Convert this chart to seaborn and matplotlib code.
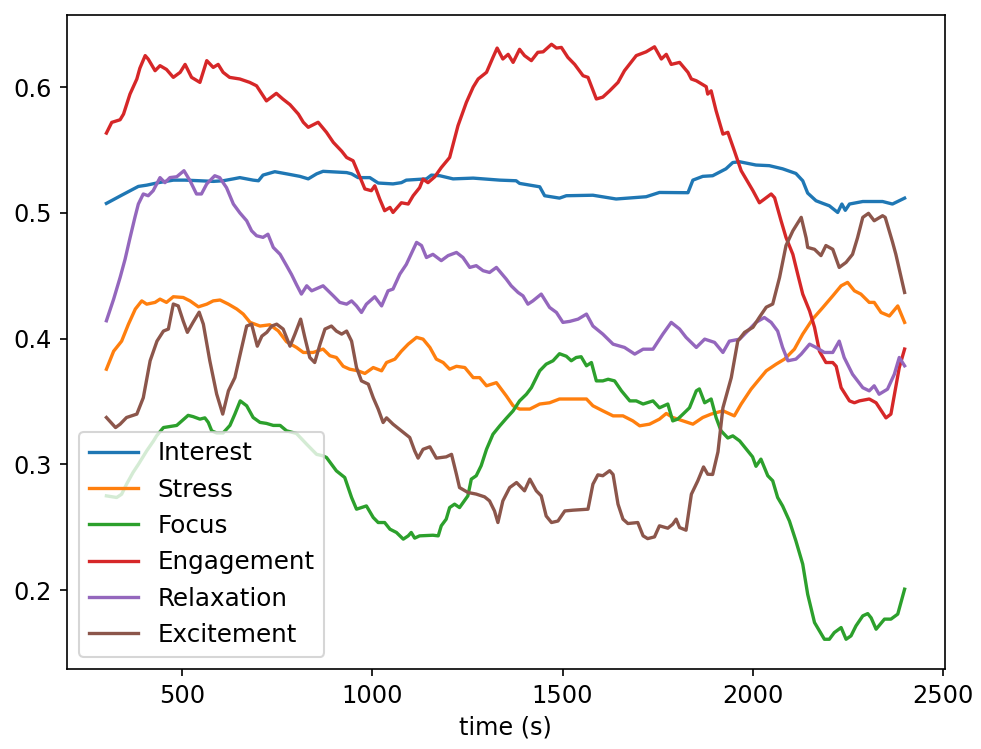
import matplotlib
matplotlib.use("Agg")
import matplotlib.pyplot as plt
import seaborn as sns
import pandas as pd

# Sample times (s) and smoothed metric values per channel
interest_t = [300, 340, 384, 406, 437, 476, 507, 546, 581, 607, 634, 651, 686, 700, 712, 743,
              774, 809, 831, 853, 870, 932, 945, 962, 993, 1015, 1054, 1076, 1089, 1142, 1155,
              1177, 1212, 1265, 1335, 1378, 1387, 1440, 1453, 1492, 1510, 1580, 1641, 1720,
              1755, 1830, 1843, 1869, 1895, 1930, 1948, 1966, 2009, 2044, 2079, 2114, 2132,
              2145, 2167, 2185, 2202, 2224, 2235, 2244, 2255, 2290, 2342, 2368, 2400]
interest_v = [0.5075, 0.514, 0.521, 0.522, 0.524, 0.526, 0.526, 0.5255, 0.525, 0.5255, 0.527,
              0.528, 0.526, 0.5255, 0.530, 0.5327, 0.531, 0.529, 0.527, 0.531, 0.533, 0.532,
              0.531, 0.528, 0.528, 0.5237, 0.523, 0.524, 0.526, 0.527, 0.530, 0.5295, 0.527,
              0.5276, 0.526, 0.5255, 0.5234, 0.5207, 0.5136, 0.5117, 0.5136, 0.514, 0.511,
              0.5128, 0.5162, 0.516, 0.526, 0.529, 0.5295, 0.535, 0.540, 0.5406, 0.538, 0.5375,
              0.535, 0.5313, 0.5255, 0.5157, 0.5096, 0.5075, 0.5056, 0.5003, 0.507, 0.502,
              0.507, 0.509, 0.509, 0.507, 0.5117]

stress_t = [300, 319, 340, 358, 376, 393, 406, 428, 441, 458, 476, 502, 520, 542, 564, 581,
            599, 621, 643, 660, 678, 704, 730, 752, 774, 800, 818, 844, 870, 888, 905, 923, 940,
            962, 980, 1002, 1024, 1037, 1059, 1076, 1094, 1116, 1133, 1151, 1168, 1186, 1203,
            1221, 1243, 1265, 1282, 1300, 1326, 1352, 1370, 1387, 1414, 1440, 1466, 1492, 1527,
            1563, 1580, 1606, 1633, 1659, 1685, 1703, 1729, 1755, 1773, 1790, 1817, 1843, 1869,
            1891, 1922, 1952, 1970, 1996, 2014, 2036, 2062, 2084, 2110, 2132, 2158, 2185, 2211,
            2233, 2250, 2268, 2285, 2307, 2320, 2338, 2360, 2382, 2400]
stress_v = [0.3757, 0.390, 0.398, 0.4115, 0.4235, 0.430, 0.4274, 0.4288, 0.4314, 0.4288, 0.4333,
            0.4327, 0.430, 0.4253, 0.4274, 0.430, 0.4307, 0.4274, 0.4235, 0.4195, 0.4129, 0.410,
            0.411, 0.4062, 0.3975, 0.393, 0.389, 0.389, 0.3917, 0.3864, 0.385, 0.378, 0.3757,
            0.3744, 0.3723, 0.377, 0.3744, 0.381, 0.3837, 0.390, 0.3956, 0.401, 0.3996, 0.393,
            0.3837, 0.381, 0.3757, 0.378, 0.377, 0.369, 0.369, 0.3625, 0.365, 0.3545, 0.3466,
            0.344, 0.344, 0.348, 0.349, 0.352, 0.352, 0.352, 0.3466, 0.3426, 0.3386, 0.3386,
            0.3346, 0.3307, 0.332, 0.336, 0.3405, 0.3373, 0.3346, 0.332, 0.3373, 0.340, 0.3426,
            0.3386, 0.348, 0.3598, 0.3664, 0.3744, 0.3797, 0.3837, 0.3916, 0.4036, 0.4155,
            0.4248, 0.434, 0.442, 0.4447, 0.438, 0.4354, 0.4288, 0.4288, 0.4208, 0.418, 0.426,
            0.4129]

focus_t = [300, 327, 340, 353, 370, 384, 406, 424, 432, 450, 485, 515, 528, 546, 559, 568, 577,
           590, 607, 625, 638, 652, 669, 686, 704, 721, 739, 757, 774, 800, 827, 853, 870, 879,
           905, 927, 945, 958, 971, 984, 1002, 1015, 1032, 1046, 1063, 1081, 1094, 1102, 1111,
           1124, 1159, 1173, 1181, 1194, 1203, 1216, 1229, 1251, 1260, 1273, 1286, 1300, 1317,
           1335, 1352, 1370, 1387, 1405, 1418, 1440, 1457, 1475, 1492, 1510, 1523, 1536, 1549,
           1563, 1576, 1589, 1606, 1620, 1637, 1655, 1677, 1694, 1712, 1738, 1755, 1777, 1790,
           1803, 1817, 1834, 1852, 1860, 1874, 1891, 1904, 1917, 1935, 1948, 1966, 1987, 2000,
           2009, 2022, 2040, 2053, 2066, 2079, 2097, 2114, 2132, 2145, 2163, 2176, 2189, 2202,
           2215, 2233, 2246, 2259, 2272, 2290, 2303, 2312, 2325, 2347, 2364, 2382, 2400]
focus_v = [0.275, 0.2737, 0.2763, 0.2843, 0.2936, 0.300, 0.3108, 0.3187, 0.3227, 0.3293, 0.331,
           0.339, 0.338, 0.336, 0.337, 0.3334, 0.3267, 0.325, 0.325, 0.331, 0.340, 0.3505,
           0.3466, 0.3373, 0.3334, 0.3326, 0.331, 0.331, 0.3267, 0.3246, 0.316, 0.308, 0.3068,
           0.3055, 0.2949, 0.2896, 0.2737, 0.2644, 0.2657, 0.267, 0.2578, 0.2538, 0.2538,
           0.2485, 0.2459, 0.2406, 0.2432, 0.2459, 0.2414, 0.2432, 0.2437, 0.2432, 0.2512,
           0.2565, 0.2657, 0.2684, 0.2657, 0.275, 0.2883, 0.291, 0.299, 0.312, 0.324, 0.3307,
           0.3366, 0.3426, 0.3505, 0.3558, 0.361, 0.3744, 0.3797, 0.3824, 0.388, 0.386, 0.3824,
           0.385, 0.3856, 0.3784, 0.381, 0.3664, 0.3664, 0.3677, 0.3664, 0.3585, 0.3505, 0.3505,
           0.348, 0.3505, 0.345, 0.348, 0.3346, 0.336, 0.340, 0.345, 0.3585, 0.360, 0.349, 0.352,
           0.3373, 0.3267, 0.321, 0.3227, 0.3187, 0.3108, 0.306, 0.2985, 0.3042, 0.291, 0.287,
           0.2737, 0.267, 0.255, 0.2392, 0.2207, 0.1968, 0.1743, 0.1677, 0.161, 0.161, 0.1663,
           0.1703, 0.161, 0.1637, 0.1716, 0.1796, 0.1814, 0.178, 0.169, 0.177, 0.177, 0.181,
           0.2008]

engagement_t = [300, 314, 336, 345, 362, 380, 388, 402, 410, 428, 441, 458, 476, 494, 507, 524,
                546, 564, 581, 594, 607, 624, 651, 677, 695, 721, 747, 764, 783, 805, 818, 831,
                857, 879, 897, 919, 932, 949, 962, 980, 997, 1006, 1019, 1032, 1046, 1054, 1076,
                1094, 1107, 1124, 1133, 1146, 1164, 1181, 1203, 1225, 1247, 1265, 1278, 1300,
                1317, 1328, 1343, 1357, 1370, 1387, 1400, 1418, 1435, 1449, 1471, 1484, 1497,
                1514, 1532, 1554, 1567, 1589, 1606, 1624, 1646, 1663, 1694, 1720, 1742, 1760,
                1773, 1786, 1808, 1830, 1839, 1852, 1878, 1882, 1891, 1904, 1922, 1935, 1952,
                1970, 2001, 2018, 2031, 2049, 2058, 2075, 2088, 2106, 2119, 2132, 2150, 2163,
                2176, 2193, 2211, 2220, 2233, 2255, 2268, 2281, 2307, 2325, 2351, 2364, 2386,
                2400]
engagement_v = [0.5634, 0.5719, 0.574, 0.5785, 0.5944, 0.6064, 0.615, 0.625, 0.6222, 0.613,
                0.617, 0.614, 0.6077, 0.6117, 0.618, 0.6077, 0.6037, 0.621, 0.6156, 0.618,
                0.6117, 0.6077, 0.6064, 0.6037, 0.601, 0.589, 0.595, 0.5905, 0.586, 0.5785,
                0.572, 0.568, 0.572, 0.564, 0.556, 0.549, 0.544, 0.5414, 0.532, 0.519, 0.5176,
                0.5215, 0.511, 0.5017, 0.5043, 0.5003, 0.508, 0.507, 0.5136, 0.520, 0.5268,
                0.524, 0.5287, 0.536, 0.544, 0.5693, 0.5878, 0.600, 0.6064, 0.6117, 0.6236,
                0.631, 0.6223, 0.626, 0.6196, 0.630, 0.625, 0.621, 0.6276, 0.628, 0.634, 0.631,
                0.6315, 0.6236, 0.618, 0.609, 0.6077, 0.5905, 0.592, 0.597, 0.6037, 0.613, 0.625,
                0.628, 0.632, 0.6223, 0.626, 0.618, 0.6196, 0.6117, 0.6064, 0.605, 0.6003,
                0.5944, 0.597, 0.5812, 0.5626, 0.564, 0.5494, 0.5335, 0.5176, 0.508, 0.5109,
                0.515, 0.512, 0.4937, 0.4804, 0.467, 0.451, 0.4354, 0.422, 0.409, 0.390, 0.381,
                0.381, 0.378, 0.361, 0.3505, 0.349, 0.3505, 0.352, 0.349, 0.337, 0.340, 0.377,
                0.3917]

relaxation_t = [300, 319, 336, 349, 362, 375, 384, 397, 410, 423, 441, 454, 467, 485, 504, 520,
                537, 550, 564, 585, 598, 616, 634, 651, 669, 682, 695, 712, 725, 739, 757, 774,
                787, 800, 813, 827, 840, 870, 897, 914, 932, 945, 958, 971, 984, 1006, 1024, 1041,
                1054, 1072, 1089, 1116, 1129, 1142, 1159, 1181, 1199, 1221, 1238, 1256, 1273,
                1291, 1308, 1326, 1352, 1365, 1383, 1396, 1409, 1422, 1444, 1466, 1484, 1501,
                1519, 1541, 1563, 1580, 1606, 1633, 1663, 1690, 1712, 1738, 1764, 1786, 1808,
                1825, 1852, 1874, 1900, 1922, 1939, 1966, 1987, 2009, 2031, 2049, 2066, 2079,
                2093, 2114, 2128, 2150, 2167, 2189, 2211, 2228, 2241, 2263, 2290, 2307, 2320,
                2333, 2355, 2373, 2386, 2400]
relaxation_v = [0.4142, 0.4314, 0.4486, 0.463, 0.480, 0.4964, 0.507, 0.515, 0.5136, 0.5176,
                0.528, 0.524, 0.528, 0.5287, 0.5335, 0.5255, 0.515, 0.515, 0.523, 0.5295, 0.528,
                0.520, 0.507, 0.500, 0.4937, 0.4857, 0.4818, 0.4805, 0.483, 0.4725, 0.467, 0.458,
                0.451, 0.443, 0.4354, 0.442, 0.438, 0.442, 0.434, 0.4288, 0.4274, 0.430, 0.426,
                0.4208, 0.4274, 0.4333, 0.426, 0.438, 0.4394, 0.4513, 0.459, 0.4765, 0.474,
                0.4645, 0.467, 0.462, 0.466, 0.4685, 0.4645, 0.4566, 0.458, 0.454, 0.4526,
                0.4566, 0.4473, 0.442, 0.4367, 0.434, 0.4274, 0.430, 0.4354, 0.4248, 0.4208,
                0.4129, 0.4137, 0.4155, 0.4195, 0.410, 0.4036, 0.3956, 0.393, 0.3877, 0.3916,
                0.3916, 0.4036, 0.4129, 0.4076, 0.401, 0.393, 0.3996, 0.397, 0.389, 0.398, 0.3996,
                0.406, 0.4129, 0.4168, 0.4129, 0.406, 0.393, 0.3824, 0.3837, 0.3877, 0.3956,
                0.393, 0.389, 0.389, 0.398, 0.385, 0.3717, 0.361, 0.3585, 0.3625, 0.3558, 0.3598,
                0.3717, 0.385, 0.3784]

excitement_t = [300, 324, 336, 353, 380, 397, 415, 433, 450, 463, 476, 489, 502, 513, 528, 544,
                555, 572, 590, 606, 621, 638, 652, 669, 682, 697, 709, 722, 735, 748, 765, 783,
                796, 811, 822, 835, 848, 862, 875, 892, 905, 919, 932, 945, 958, 971, 989, 1002,
                1015, 1028, 1037, 1054, 1076, 1098, 1111, 1120, 1133, 1151, 1168, 1181, 1194,
                1208, 1221, 1229, 1251, 1273, 1295, 1308, 1321, 1330, 1343, 1361, 1379, 1400,
                1414, 1431, 1444, 1457, 1471, 1488, 1506, 1527, 1567, 1580, 1593, 1606, 1624,
                1633, 1646, 1659, 1672, 1698, 1712, 1724, 1742, 1755, 1777, 1790, 1799, 1808,
                1825, 1839, 1856, 1871, 1882, 1895, 1909, 1922, 1944, 1961, 1979, 2001, 2018,
                2036, 2053, 2071, 2088, 2106, 2128, 2141, 2145, 2163, 2180, 2193, 2211, 2228,
                2246, 2263, 2276, 2290, 2305, 2320, 2342, 2349, 2368, 2377, 2400]
excitement_v = [0.3373, 0.3293, 0.332, 0.3373, 0.340, 0.353, 0.3824, 0.398, 0.406, 0.4076,
                0.4275, 0.426, 0.414, 0.405, 0.413, 0.421, 0.4115, 0.3824, 0.356, 0.340, 0.3585,
                0.369, 0.3877, 0.410, 0.4115, 0.394, 0.402, 0.405, 0.410, 0.4115, 0.4076, 0.394,
                0.4036, 0.4155, 0.401, 0.385, 0.381, 0.3956, 0.4076, 0.410, 0.406, 0.4036, 0.406,
                0.398, 0.377, 0.3664, 0.3638, 0.353, 0.344, 0.3333, 0.337, 0.332, 0.3267, 0.3214,
                0.3108, 0.305, 0.312, 0.314, 0.305, 0.3055, 0.306, 0.308, 0.292, 0.2816, 0.2777,
                0.2764, 0.2742, 0.271, 0.263, 0.2538, 0.271, 0.2816, 0.2856, 0.279, 0.2883, 0.279,
                0.275, 0.259, 0.2538, 0.255, 0.263, 0.2636, 0.2644, 0.2843, 0.2917, 0.291, 0.295,
                0.292, 0.2684, 0.2565, 0.253, 0.2538, 0.2432, 0.241, 0.2424, 0.2512, 0.2493,
                0.2525, 0.2565, 0.2498, 0.2477, 0.2763, 0.287, 0.298, 0.2922, 0.292, 0.310, 0.345,
                0.369, 0.398, 0.405, 0.409, 0.417, 0.425, 0.4275, 0.4486, 0.474, 0.4857, 0.4964,
                0.480, 0.4725, 0.471, 0.466, 0.474, 0.471, 0.4566, 0.4606, 0.467, 0.480, 0.4964,
                0.4996, 0.4937, 0.4977, 0.4964, 0.477, 0.467, 0.4367]

metric_names = ["Interest", "Stress", "Focus", "Engagement", "Relaxation", "Excitement"]
series = [
    (interest_t, interest_v),
    (stress_t, stress_v),
    (focus_t, focus_v),
    (engagement_t, engagement_v),
    (relaxation_t, relaxation_v),
    (excitement_t, excitement_v),
]

colors = sns.color_palette("tab10", len(metric_names))

fig = plt.figure(figsize=(981 / 150, 749 / 150), dpi=150)
ax = fig.add_axes([0.0678, 0.1068, 0.9628 - 0.0678, 0.9806 - 0.1068])

for name, (t, v), c in zip(metric_names, series, colors):
    df = pd.DataFrame({"time": t, "value": v})
    sns.lineplot(data=df, x="time", y="value", ax=ax, color=c, label=name,
                 estimator=None, sort=True, linewidth=1.6)

ax.set_xlabel("time (s)", fontsize=11.5)
ax.set_ylabel("")
ax.set_xticks([500, 1000, 1500, 2000, 2500])
ax.set_yticks([0.2, 0.3, 0.4, 0.5, 0.6])
ax.tick_params(labelsize=11.5)
ax.legend(loc="lower left", fontsize=11.8)

fig.savefig("out.png", dpi=150)
